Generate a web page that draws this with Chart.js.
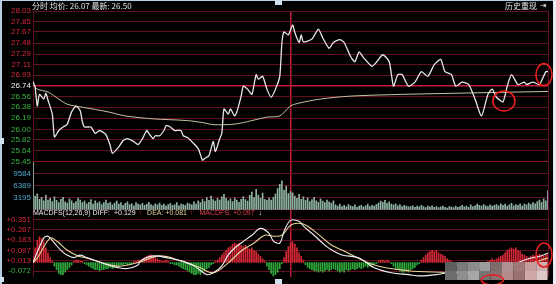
<!DOCTYPE html>
<html>
<head>
<meta charset="utf-8">
<script src="https://cdn.jsdelivr.net/npm/chart.js@4/dist/chart.umd.min.js"></script>
<style>
  html, body { margin: 0; padding: 0; background: #000; }
  #wrap { position: relative; width: 556px; height: 284px; }
</style>
</head>
<body>
<div id="wrap"><canvas id="chart" width="556" height="284"></canvas></div>
<script>
// --- data ---
const prevClose = 26.74;
const priceTicks = ['28.03','27.85','27.67','27.48','27.29','27.11','26.93','26.74','26.56','26.38','26.19','26.00','25.82','25.64','25.45'];
const volTicks = ['9584','6389','3195'];
const macdTicks = ['+0.351','+0.267','+0.183','+0.097','+0.013','-0.072'];
const sessionMarks = [0, 120, 240];

const priceMinutes = [0,1,2,3,5,6,7,9,10,12,
  14,15,16,18,20,22,23,24,27,29,
  31,34,36,37,40,42,44,47,49,51,
  53,54,56,57,59,61,62,64,66,69,
  70,72,74,77,79,80,82,84,85,87,
  88,89,91,92,94,95,97,98,100,102,
  104,105,107,109,111,113,115,116,117,119,
  121,122,124,125,126,130,133,135,138,140,
  143,145,148,150,152,154,158,160,163,166,
  168,170,172,175,178,181,184,187,190,192,
  195,197,200,203,206,209,212,214,216,219,
  221,223,226,229,230,233,236,239,240];
const priceValues = [26.82,26.72,26.40,26.60,26.52,26.62,26.50,26.26,25.87,25.98,
  26.04,26.06,26.09,26.30,26.40,26.32,26.13,26.04,26.04,25.93,
  25.98,25.91,25.72,25.59,25.70,25.81,25.84,25.79,25.74,25.84,
  25.98,25.93,25.84,25.89,25.89,25.98,26.06,26.04,25.98,25.98,
  25.89,25.86,25.79,25.67,25.47,25.50,25.55,25.79,25.62,25.84,
  25.93,26.35,26.26,26.35,26.23,26.30,26.57,26.74,26.69,26.60,
  26.94,26.86,26.91,26.69,26.55,26.69,26.91,27.49,27.67,27.62,
  27.79,27.66,27.49,27.62,27.50,27.55,27.72,27.57,27.39,27.49,
  27.54,27.49,27.25,27.16,27.33,27.23,27.08,27.15,27.28,27.16,
  26.74,26.94,26.94,26.74,26.81,26.99,26.91,27.11,27.20,26.99,
  26.94,26.74,26.81,26.77,26.52,26.23,26.60,26.69,26.55,26.47,
  26.74,26.94,26.77,26.81,26.77,26.81,26.77,26.99,26.99];

const avgMinutes = [0,2,7,12,16,23,35,43,56,72,80,84,94,102,109,115,120,124,134,148,172,240];
const avgValues = [26.77,26.69,26.64,26.52,26.43,26.38,26.30,26.23,26.18,26.15,26.11,26.08,26.09,26.15,26.21,26.23,26.40,26.45,26.52,26.57,26.60,26.65];

// one bar per minute, 0..240
const volumes = [12500,
  3600,4200,2800,3300,2400,3900,2600,3000,2200,3400,
  2500,1900,2800,3300,2100,1800,2900,2400,1700,2200,3100,2600,1900,2300,1600,
  2000,2700,1500,2400,1800,2100,1400,1900,2600,1700,2000,1300,1800,2300,1500,1900,1200,1700,2100,1400,1600,1100,1900,1500,1300,
  1700,1200,1500,2000,1400,1100,1600,1300,1800,1200,1500,1000,1400,1700,1200,1300,1900,1100,1500,1400,1200,1800,1600,1300,2100,1500,2400,1900,2800,2200,
  3200,2500,3600,2700,2300,3000,2600,3400,4100,3000,
  2400,2900,2200,3100,2600,2000,2800,3500,2700,2300,
  3800,4700,3200,5400,3900,3000,4400,2800,2500,3100,
  2600,3300,4200,5600,6700,7600,5200,6200,4300,4800,
  4500,3600,3000,4100,2800,3400,2500,3100,2200,2700,3300,2400,2000,2900,2300,1900,2600,2100,1800,2400,
  1300,1000,1500,900,1200,800,1400,1100,900,1300,700,1000,1200,800,1100,1500,900,1200,1000,1400,
  1800,2300,2000,2500,1700,2100,1500,1300,1600,1100,1400,900,1200,1000,800,
  900,1100,700,1000,800,1200,900,600,1000,800,1100,700,900,600,800,1000,700,500,900,800,
  600,1000,700,900,1200,800,1000,700,1300,900,1100,1500,1200,1000,1400,1100,900,1300,1000,1200,
  1400,1100,1600,1200,1500,1000,1300,1700,1100,1400,1200,1600,1000,1500,1300,1800,1400,1900,1600,2200,2600,2000,2900,2400,5000];

const macdHist = [0.05,0.12,0.18,0.21,0.20,0.17,0.12,0.08,0.04,
  0.01,-0.03,-0.06,-0.09,-0.10,-0.10,-0.08,-0.06,-0.04,-0.02,
  0.01,0.02,0.02,0.01,0.01,-0.01,
  -0.02,-0.03,-0.04,-0.05,-0.06,-0.06,-0.07,-0.06,-0.06,-0.05,-0.05,-0.04,-0.05,-0.04,-0.03,-0.03,-0.02,
  -0.02,-0.01,-0.02,-0.01,-0.01,0.01,0.01,0.02,0.02,
  0.03,0.04,0.05,0.06,0.06,0.05,0.04,0.03,0.02,
  0.01,0.01,0.02,0.01,-0.01,-0.01,-0.02,-0.02,-0.03,-0.04,-0.05,
  -0.06,-0.07,-0.08,-0.09,-0.10,-0.10,-0.09,-0.10,-0.08,-0.07,-0.05,-0.04,-0.02,-0.01,
  0.01,0.02,0.04,
  0.06,0.08,0.10,0.12,0.13,0.15,0.16,0.15,0.16,0.14,0.13,0.14,0.12,0.11,0.12,0.10,0.09,0.07,0.05,0.03,0.01,
  -0.03,-0.06,-0.09,-0.11,-0.10,-0.08,-0.05,-0.01,
  0.04,0.09,0.13,0.16,0.17,0.15,0.12,0.08,0.05,0.02,
  -0.02,-0.04,-0.05,-0.06,-0.07,-0.07,-0.08,-0.07,-0.08,-0.07,-0.06,-0.07,-0.06,-0.05,-0.06,-0.07,-0.08,-0.07,-0.08,-0.06,-0.07,-0.06,-0.05,-0.06,-0.05,-0.04,-0.05,-0.04,-0.03,-0.04,-0.03,-0.02,-0.02,-0.01,
  0.01,0.02,0.02,0.01,0.02,0.01,-0.01,
  -0.03,-0.05,-0.06,-0.07,-0.08,-0.08,-0.07,-0.08,-0.06,-0.05,-0.04,-0.02,-0.01,
  0.02,0.04,0.06,0.08,0.09,0.10,0.09,0.10,0.08,0.07,0.06,0.05,0.03,0.02,0.01,
  -0.01,-0.02,-0.03,-0.04,-0.05,-0.06,-0.07,-0.08,-0.08,-0.07,-0.06,-0.05,-0.04,-0.03,-0.02,-0.01,0.01,0.02,0.03,0.02,0.03,0.04,0.05,0.06,
  0.08,0.10,0.11,0.12,0.11,0.12,0.10,0.09,0.07,0.06,0.05,0.04,
  0.05,0.06,0.05,0.06,0.07,0.06,0.05,0.06,0.07];

const diffMinutes = [0,5,7,10,13,16,19,22,25,30,35,39,44,49,50,56,63,69,75,81,84,88,91,94,97,102,106,110,112,115,117,120,124,126,131,136,140,144,152,159,167,175,180,188,195,203,210,215,220,225,231,237,240];
const diffValues = [0.00,0.20,0.215,0.16,0.10,0.06,0.04,0.06,0.04,0.01,-0.02,-0.04,-0.05,-0.02,0.013,0.054,0.037,0.013,-0.028,-0.10,-0.085,-0.028,0.062,0.119,0.16,0.224,0.28,0.24,0.176,0.16,0.257,0.346,0.338,0.298,0.224,0.143,0.094,0.062,0.037,-0.044,-0.085,-0.10,-0.11,-0.10,-0.08,-0.09,-0.12,-0.135,-0.07,-0.01,0.03,0.055,0.078];
const deaMinutes = [0,2,8,11,16,21,25,39,49,59,69,78,84,91,97,103,108,112,116,120,124,128,134,139,144,159,175,190,205,215,222,230,237,240];
const deaValues = [0.00,0.037,0.20,0.176,0.10,0.054,0.037,-0.03,0.00,0.054,0.013,-0.044,-0.085,-0.003,0.094,0.16,0.224,0.216,0.224,0.306,0.322,0.298,0.216,0.143,0.102,-0.02,-0.068,-0.08,-0.085,-0.09,-0.06,-0.02,0.021,0.037];

const headerText = '分时 均价: 26.07 最新: 26.50';
const replayText = '历史重现';
const macdLabel = { name: 'MACDFS(12,26,9) DIFF:', diff: '+0.129', dea: 'DEA: +0.081', hist: 'MACDFS: +0.097' };

// --- helpers ---
const pts = (xs, ys) => xs.map((x, i) => ({ x: x, y: ys[i] }));
const near = (a, b) => Math.abs(a - b) < 0.004;
const fitLeft = s => { s.width = 33; };
const RED = '#d8283c', GREEN = '#38b440', GRID = '#64101f';

const decor = {
  id: 'decor',
  beforeDraw(chart) {
    const c = chart.ctx;
    c.save();
    c.fillStyle = '#000';
    c.fillRect(0, 0, chart.width, chart.height);
    c.restore();
  },
  afterDraw(chart) {
    const c = chart.ctx;
    const x = chart.scales.x, yP = chart.scales.yP, yM = chart.scales.yM;
    c.save();
    c.textBaseline = 'middle';
    c.font = '8px "Noto Sans CJK SC"';
    c.fillStyle = '#e4e4e4';
    c.fillText(headerText, 32, 6);
    c.fillText(replayText, 505, 6);
    c.font = '8px "DejaVu Sans"';
    c.fillText('⇥', 540, 6);

    // MACD caption row, pieces laid out one after the other
    const ty = yM.top + 3;
    c.font = '7px "Liberation Sans"';
    let cx = 33;
    const put = (txt, col, gap) => {
      c.fillStyle = col; c.fillText(txt, cx, ty);
      cx += c.measureText(txt).width + gap;
    };
    put(macdLabel.name, '#e8e8e8', 4);
    put(macdLabel.diff, '#e8e8e8', 3);
    put('↑', RED, 5);
    put(macdLabel.dea, '#e6d49a', 3);
    put('↑', RED, 6);
    put(macdLabel.hist, '#e0404e', 4);
    put('↓', '#f0f0f0', 0);

    // mosaic watermark
    const mos = [['#5e5e5e','#7a7a7a','#8c8c8c','#9c9c9c','#7c6c6c','#ae9090','#a07878','#c49c9c','#cfb0b0'],
                 ['#6c6c6c','#8e8e8e','#a6a6a6','#747474','#8a7070','#b48c8c','#9a7070','#d0a8a8','#e0c8c8']];
    mos.forEach((row, r) => row.forEach((col, k) => {
      c.fillStyle = col;
      c.fillRect(445 + k * 11.4, 262 + r * 9, 11.4, 9);
    }));

    // red annotation circles, anchored on data points
    const ring = (px, py, rx, ry) => {
      c.beginPath(); c.ellipse(px, py, rx, ry, 0, 0, Math.PI * 2);
      c.strokeStyle = '#e82020'; c.lineWidth = 1.6; c.stroke();
    };
    const last = priceMinutes.length - 1;
    ring(x.getPixelForValue(priceMinutes[last]) - 4, yP.getPixelForValue(priceValues[last]) + 3, 8, 11);
    const lowIdx = priceMinutes.indexOf(219);
    ring(x.getPixelForValue(priceMinutes[lowIdx]) + 1, yP.getPixelForValue(priceValues[lowIdx]) - 1, 11, 10);
    const dl = diffMinutes.length - 1;
    ring(x.getPixelForValue(diffMinutes[dl]) - 4, yM.getPixelForValue(diffValues[dl]) + 2, 8, 12);
    const dLow = diffMinutes.indexOf(215);
    ring(x.getPixelForValue(diffMinutes[dLow]) - 2, yM.getPixelForValue(diffValues[dLow]) + 1, 11, 5);

    // screenshot frame and handles
    c.fillStyle = '#b8cde0';
    c.fillRect(0, 0, 2, chart.height);
    c.fillRect(0, 0, chart.width, 1);
    c.fillStyle = '#e8eef4';
    c.fillRect(553, 0, 3, chart.height);
    c.fillStyle = '#cfe0ee';
    c.fillRect(275, 0, 7, 5);
    c.fillRect(0, 138, 4, 6);
    c.fillRect(0, 277, 4, 5);
    c.fillRect(275, 279, 7, 5);
    c.restore();
  }
};

Chart.defaults.font.family = '"Liberation Sans", Arial, sans-serif';
Chart.defaults.font.size = 8;

new Chart(document.getElementById('chart'), {
  type: 'bar',
  data: {
    datasets: [
      { type: 'line', label: 'price', data: pts(priceMinutes, priceValues), yAxisID: 'yP',
        borderColor: '#e6e6e6', borderWidth: 1.3, pointRadius: 0, tension: 0.2, order: 0 },
      { type: 'line', label: 'avg', data: pts(avgMinutes, avgValues), yAxisID: 'yP',
        borderColor: '#c8c0a4', borderWidth: 1, pointRadius: 0, tension: 0.3, order: 1 },
      { type: 'bar', label: 'vol', data: volumes.map((v, i) => ({ x: i, y: v })), yAxisID: 'yV',
        backgroundColor: (c) => c.dataIndex === volumes.length - 1 ? '#b4a4d8' : '#8db3a2',
        barThickness: 1, grouped: false, order: 3 },
      { type: 'bar', label: 'macd', data: macdHist.map((v, i) => ({ x: i, y: v })), yAxisID: 'yM',
        backgroundColor: (c) => c.raw && c.raw.y >= 0 ? '#d42836' : '#2fa83c',
        barThickness: 1, grouped: false, order: 3 },
      { type: 'line', label: 'DIFF', data: pts(diffMinutes, diffValues), yAxisID: 'yM',
        borderColor: '#f0f0f0', borderWidth: 1.1, pointRadius: 0, tension: 0.35, order: 0 },
      { type: 'line', label: 'DEA', data: pts(deaMinutes, deaValues), yAxisID: 'yM',
        borderColor: '#e6d49a', borderWidth: 1.1, pointRadius: 0, tension: 0.35, order: 1 }
    ]
  },
  options: {
    responsive: false,
    animation: false,
    devicePixelRatio: 1,
    layout: { padding: { left: 0, right: 8, top: 11, bottom: 4 } },
    plugins: { legend: { display: false }, tooltip: { enabled: false } },
    scales: {
      x: {
        type: 'linear', min: 0, max: 240, offset: false,
        afterBuildTicks: s => { s.ticks = sessionMarks.map(v => ({ value: v })); },
        afterFit: s => { s.height = 0; },
        ticks: { display: false, autoSkip: false },
        border: { display: false },
        grid: { offset: false, drawTicks: false,
                color: c => c.tick && c.tick.value === 120 ? '#c01c38' : GRID,
                lineWidth: c => c.tick && c.tick.value === 120 ? 1.5 : 1 }
      },
      yP: {
        position: 'left', stack: 'panes', stackWeight: 152, weight: 3,
        min: 25.45, max: 28.03,
        afterBuildTicks: s => { s.ticks = priceTicks.map(t => ({ value: parseFloat(t) })); },
        afterFit: fitLeft,
        border: { display: false },
        grid: { drawTicks: false,
                color: c => near(c.tick.value, prevClose) ? '#c41c3a' : (near(c.tick.value, 25.45) ? '#8c1428' : GRID),
                lineWidth: c => near(c.tick.value, prevClose) ? 1.5 : 1 },
        ticks: { padding: 2, autoSkip: false,
                 callback: v => priceTicks.find(t => near(parseFloat(t), v)) || '',
                 color: c => near(c.tick.value, prevClose) ? '#f2f2f2' : (c.tick.value > prevClose ? RED : GREEN) }
      },
      yV: {
        position: 'left', stack: 'panes', stackWeight: 49, weight: 2,
        min: 0, max: 12700,
        afterBuildTicks: s => { s.ticks = [0].concat(volTicks.map(Number)).map(v => ({ value: v })); },
        afterFit: fitLeft,
        border: { display: false },
        grid: { drawTicks: false, color: GRID },
        ticks: { padding: 2, autoSkip: false, color: '#4fa8c8', callback: v => v === 0 ? '' : String(v) }
      },
      yM: {
        position: 'left', stack: 'panes', stackWeight: 68, weight: 1,
        min: -0.121, max: 0.432,
        afterBuildTicks: s => { s.ticks = macdTicks.map(t => ({ value: parseFloat(t) })); },
        afterFit: fitLeft,
        border: { display: false },
        grid: { drawTicks: false, color: GRID },
        ticks: { padding: 2, autoSkip: false,
                 callback: v => macdTicks.find(t => near(parseFloat(t), v)) || '',
                 color: c => c.tick.value >= 0 ? RED : GREEN }
      }
    }
  },
  plugins: [decor]
});
</script>
</body>
</html>
